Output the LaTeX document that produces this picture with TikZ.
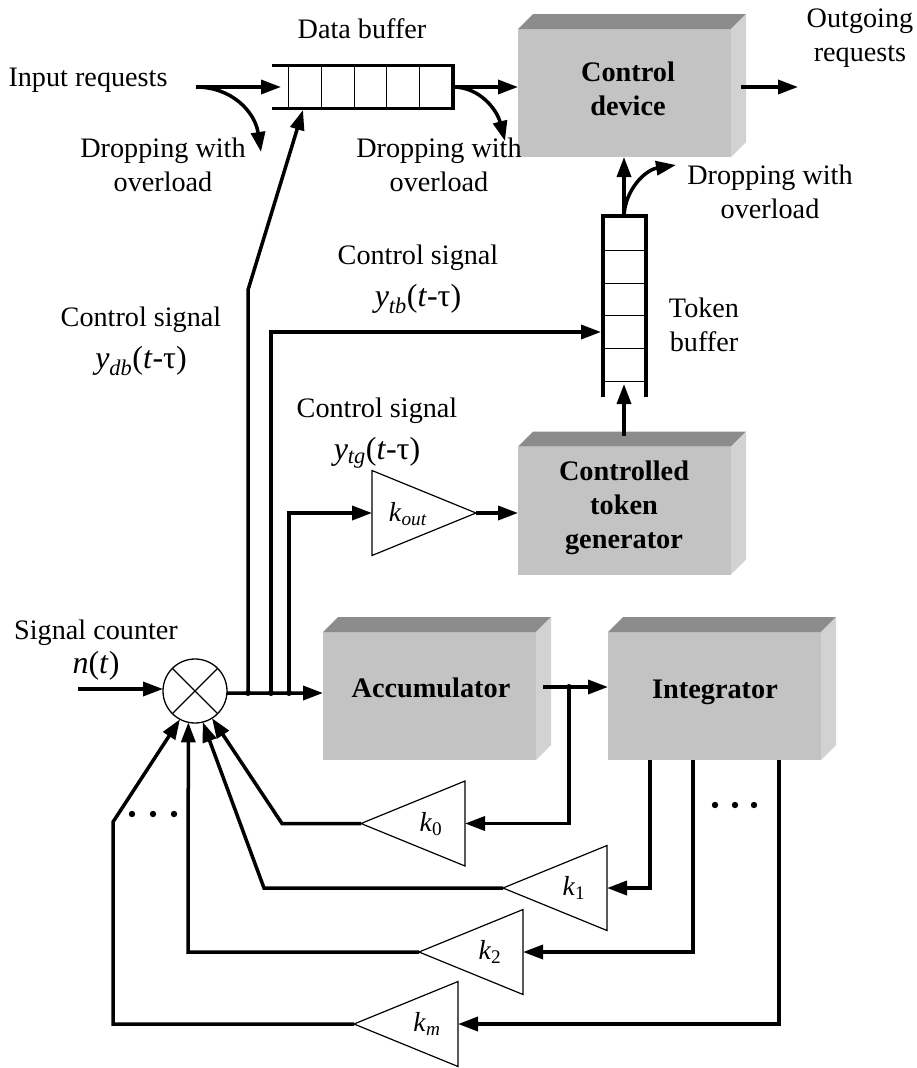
\documentclass[tikz,border=0pt]{standalone}
\usepackage{fontspec}
\setmainfont{Liberation Serif}
\usetikzlibrary{arrows.meta,shapes.geometric}
\newcommand{\formulafont}{\fontsize{32}{34}\selectfont}

\begin{document}
\begin{tikzpicture}[x=1pt,y=-1pt,>={Triangle[length=20pt,width=14pt]}]
	\tikzstyle{block}=[rectangle, fill=blockgray, minimum width=213pt, minimum height=128pt, inner sep=0pt, outer sep=0pt]
	\tikzstyle{blocktext}=[align=center, font=\fontsize{28.3}{34}\selectfont\bfseries]
	\tikzstyle{caption}=[align=center, font=\fontsize{28.2}{34}\selectfont]
	\tikzstyle{gaintext}=[font=\fontsize{27.5}{30}\selectfont]
	\tikzstyle{signal}=[line width=3.5pt, line join=miter]
	\tikzstyle{buffer}=[rectangle, inner sep=0pt, outer sep=0pt]
	\tikzstyle{gain}=[isosceles triangle, isosceles triangle stretches, draw=black, line width=1.2pt, minimum width=85pt, minimum height=104pt, inner sep=0pt, outer sep=0pt, anchor=apex]
	\tikzstyle{multiplier}=[circle, draw=black, line width=1.3pt, minimum size=64pt, inner sep=0pt, outer sep=0pt]
	\definecolor{blockgray}{HTML}{C3C3C3}
	\definecolor{topgray}{HTML}{8C8C8C}
	\definecolor{sidegray}{HTML}{D2D2D2}

	\useasboundingbox (0,0) rectangle (916,1068);

	\node [block] (control) at (624.5,93) {};
	\node [block] (generator) at (624.5,510.5) {};
	\node [block] (accumulator) at (429.5,696) {};
	\node [block] (integrator) [right of=accumulator,node distance=285pt] {};
	\foreach \b in {control,generator,accumulator,integrator} {
		\fill [topgray] (\b.north west) -- ++(15,-15) -- ++(213,0) -- (\b.north east) -- cycle;
		\fill [sidegray] (\b.north east) -- ++(15,-15) -- ++(0,128) -- (\b.south east) -- cycle;
	}

	\node [buffer,minimum width=181pt,minimum height=43pt] (databuffer) at (362.5,87) {};
	\node [buffer,minimum width=43pt,minimum height=181pt] (tokenbuffer) at (624.5,306.5) {};
	\foreach \x in {288.5,321.5,354,386.5,419.5}
		\draw [line width=1pt] (\x,65.5) -- (\x,108.5);
	\foreach \y in {250,283,315,348,381}
		\draw [line width=1pt] (603,\y) -- (646,\y);
	\draw [signal] (databuffer.north west) -- (databuffer.north east) -- (databuffer.south east) -- (databuffer.south west);
	\draw [signal] (tokenbuffer.south west) -- (tokenbuffer.north west) -- (tokenbuffer.north east) -- (tokenbuffer.south east);

	\node [multiplier] (mult) at (195,691) {};
	\draw [line width=1.2pt] (mult.45) -- (mult.225);
	\draw [line width=1.2pt] (mult.135) -- (mult.315);

	\node [gain,shape border rotate=0] (kout) at (476,513) {};
	\node [gain,shape border rotate=180] (k0) at (361,823.5) {};
	\node [gain,shape border rotate=180] (k1) at (503,888) {};
	\node [gain,shape border rotate=180] (k2) at (419,952) {};
	\node [gain,shape border rotate=180] (km) at (354,1024) {};

	\coordinate (inputstart) at (196,87);
	\coordinate (inputend) at (281,87);
	\coordinate (inputdrop) at (261,152);
	\coordinate (dataout) at (453,87);
	\coordinate (datadrop) at (505,141);
	\coordinate (deviceout) at (741,87);
	\coordinate (requests) at (798,87);
	\coordinate (tokentop) at (624,216);
	\coordinate (tokendrop) at (676,165);
	\coordinate (tokenfeed) at (624,384);
	\coordinate (counterstart) at (78,689);
	\coordinate (tap1) at (248,693);
	\coordinate (tap2) at (271,693);
	\coordinate (tap3) at (289,693);
	\coordinate (kink) at (248,290);
	\coordinate (datain) at (303,110);
	\coordinate (tokenturn) at (271,332);
	\coordinate (tokenin) at (601,332);
	\coordinate (outturn) at (289,513);
	\coordinate (accout) at (543,687);
	\coordinate (tap4) at (569,687);
	\coordinate (k0turn) at (569,823.5);
	\coordinate (k1turn) at (650,888);
	\coordinate (k2turn) at (693,952);
	\coordinate (kmturn) at (779,1024);
	\coordinate (k0bend) at (282,823.5);
	\coordinate (k1bend) at (264,888);
	\coordinate (k2bend) at (188,952);
	\coordinate (kmbend) at (113,1024);
	\coordinate (kmkink) at (113,822);

	\draw [signal,->] (inputstart) -- (inputend);
	\draw [signal,->] (inputstart) .. controls (232,87) and (255,112) .. (inputdrop);
	\draw [signal,->] (dataout) -- (control.west |- dataout);
	\draw [signal,->] (dataout) .. controls (480,87) and (497,110) .. (datadrop);
	\draw [signal,->] (deviceout) -- (requests);
	\draw [signal,->] (tokentop) -- (control.south -| tokentop);
	\draw [signal,->] (tokentop) .. controls (625,190) and (645,170) .. (tokendrop);
	\draw [signal,->] (generator.north -| tokenfeed) ++(0,-11) -- (tokenfeed);
	\draw [signal,->] (counterstart) -- (mult.west |- counterstart);
	\draw [signal,->] (mult.-4) -- (tap1) -- (tap2) -- (tap3) -- (accumulator.west |- tap3);
	\draw [signal,->] (tap1) -- (kink) -- (datain);
	\draw [signal,->] (tap2) -- (tokenturn) -- (tokenin);
	\draw [signal,->] (tap3) -- (outturn) -- (kout.lower side);
	\draw [signal,->] (kout.apex) -- (generator.west |- kout.apex);
	\draw [signal,->] (accout) -- (integrator.west |- accout);
	\draw [signal,->] (tap4) -- (k0turn) -- (k0.lower side);
	\draw [signal,->] (integrator.south -| k1turn) -- (k1turn) -- (k1.lower side);
	\draw [signal,->] (integrator.south -| k2turn) -- (k2turn) -- (k2.lower side);
	\draw [signal,->] (integrator.south -| kmturn) -- (kmturn) -- (km.lower side);
	\draw [signal,->] (k0.apex) -- (k0bend) -- (mult.302);
	\draw [signal,->] (k1.apex) -- (k1bend) -- (mult.284);
	\draw [signal,->] (k2.apex) -- (k2bend) -- (mult.258);
	\draw [signal,->] (km.apex) -- (kmbend) -- (kmkink) -- (mult.242);

	\foreach \c in {tap1,tap2,tap3,tap4}
		\fill (\c) circle (3);
	\foreach \x in {132,153,174}
		\fill (\x,814) circle (3.2);
	\foreach \x in {715,735,754}
		\fill (\x,805) circle (3.2);

	\node [blocktext] (controllabel) at (628,89) {Control\\device};
	\node [blocktext] (generatorlabel) at (624,508) {Controlled\\token\\generator};
	\node [blocktext] (accumulatorlabel) at (431,688) {Accumulator};
	\node [blocktext] (integratorlabel) at (715,692) {Integrator};

	\node [gaintext] (koutlabel) at (408,514) {\textit{k}\textsubscript{\textit{out}}};
	\node [gaintext] (k0label) at (431,824) {\textit{k}\textsubscript{0}};
	\node [gaintext] (k1label) at (574,888) {\textit{k}\textsubscript{1}};
	\node [gaintext] (k2label) at (490,952) {\textit{k}\textsubscript{2}};
	\node [gaintext] (kmlabel) at (427,1024) {\textit{k}\textsubscript{\textit{m}}};

	\node [caption] (databufferlabel) at (362,29) {Data buffer};
	\node [caption] (inputlabel) at (88,80) {Input requests};
	\node [caption] (drop1) at (163,165) {Dropping with\\overload};
	\node [caption] (drop2) at (439,165) {Dropping with\\overload};
	\node [caption] (drop3) at (770,192) {Dropping with\\overload};
	\node [caption] (outgoing) at (860,38) {Outgoing\\requests};
	\node [caption] (tokenlabel) at (704,325) {Token\\buffer};
	\node [caption] (signaltb) at (418,279) {Control signal\\[8pt]\formulafont\textit{y}\textsubscript{\textit{tb}}(\textit{t}-τ)};
	\node [caption] (signaldb) at (141,341.5) {Control signal\\[8pt]\formulafont\textit{y}\textsubscript{\textit{db}}(\textit{t}-τ)};
	\node [caption] (signaltg) at (377,433.5) {Control signal\\[8pt]\formulafont\textit{y}\textsubscript{\textit{tg}}(\textit{t}-τ)};
	\node [caption] (counter) at (96,650) {Signal counter\\\formulafont\textit{n}(\textit{t})};
\end{tikzpicture}
\end{document}
